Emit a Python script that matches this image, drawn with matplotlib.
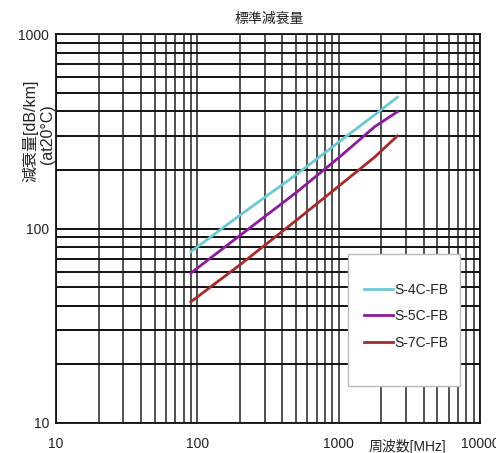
import matplotlib
matplotlib.use('Agg')
import matplotlib.pyplot as plt
from matplotlib.patches import Rectangle
from matplotlib.ticker import LogLocator, NullFormatter

plt.rcParams['font.family'] = ['Liberation Sans', 'Noto Sans CJK JP', 'DejaVu Sans']

# data (MHz vs dB/km)
freq = [90, 200, 500, 1000, 1800, 2600]
s4c_fb = [76, 117, 189, 278, 384, 473]
s5c_fb = [59, 92, 153, 231, 334, 398]
s7c_fb = [42, 65, 110, 165, 233, 299]
names = ['S-4C-FB', 'S-5C-FB', 'S-7C-FB']
colors = ['#6cc8d2', '#8c1a9a', '#a52a2a']
xticks = [10, 100, 1000, 10000]
yticks = [10, 100, 1000]

fig = plt.figure(figsize=(4.96, 4.53), dpi=100)
ax = fig.add_axes([56 / 496, 1 - 423 / 453, (480 - 56) / 496, (423 - 34) / 453])

ax.set_xscale('log')
ax.set_yscale('log')
ax.set_xlim(10, 10000)
ax.set_ylim(10, 1000)

# full grid, every minor line
ax.xaxis.set_major_locator(LogLocator(base=10, numticks=10))
ax.xaxis.set_minor_locator(LogLocator(base=10, subs=range(2, 10), numticks=20))
ax.yaxis.set_major_locator(LogLocator(base=10, numticks=10))
ax.yaxis.set_minor_locator(LogLocator(base=10, subs=range(2, 10), numticks=20))
ax.xaxis.set_minor_formatter(NullFormatter())
ax.yaxis.set_minor_formatter(NullFormatter())
ax.grid(True, which='both', axis='y', color='#111111', linewidth=1.4)
ax.grid(True, which='both', axis='x', color='#333333', linewidth=1.2)
ax.set_axisbelow(True)
for s in ax.spines.values():
    s.set_color('#111111')
    s.set_linewidth(1.3)

ax.set_xticks(xticks)
ax.set_xticklabels([str(v) for v in xticks])
ax.set_yticks(yticks)
ax.set_yticklabels([str(v) for v in yticks])
ax.tick_params(which='both', length=0, labelsize=10, colors='#222222')
ax.tick_params(axis='x', pad=10)
ax.tick_params(axis='y', pad=5)

series = [s4c_fb, s5c_fb, s7c_fb]
handles = []
for name, vals, c in zip(names, series, colors):
    h, = ax.plot(freq, vals, color=c, linewidth=2, label=name, zorder=3)
    handles.append(h)

# legend box
box = Rectangle((348 / 496, 1 - 386 / 453), 112 / 496, 132 / 453,
                transform=fig.transFigure, facecolor='white',
                edgecolor='#bbbbbb', linewidth=1, zorder=5)
fig.patches.append(box)
leg = fig.legend(handles, names, loc='upper left',
                 bbox_to_anchor=(351 / 496, 1 - 270 / 453),
                 frameon=False, fontsize=10, handlelength=2.15,
                 handletextpad=0.08, labelspacing=0.91)
leg.set_zorder(6)
for t in leg.get_texts():
    t.set_color('#222222')

fig.text(269 / 496, 1 - 19 / 453, '標準減衰量', ha='center', va='center',
         fontsize=10, color='#222222')
fig.text(30 / 496, 1 - 131 / 453, '減衰量[dB/km]', rotation=90,
         ha='center', va='center', fontsize=11.5, color='#222222')
fig.text(47 / 496, 1 - 134 / 453, '(at20°C)', rotation=90,
         ha='center', va='center', fontsize=11.5, color='#222222')
fig.text(407 / 496, 1 - 446 / 453, '周波数[MHz]', ha='center', va='center',
         fontsize=10, color='#222222')

fig.savefig('out.png', dpi=100, facecolor='white')
